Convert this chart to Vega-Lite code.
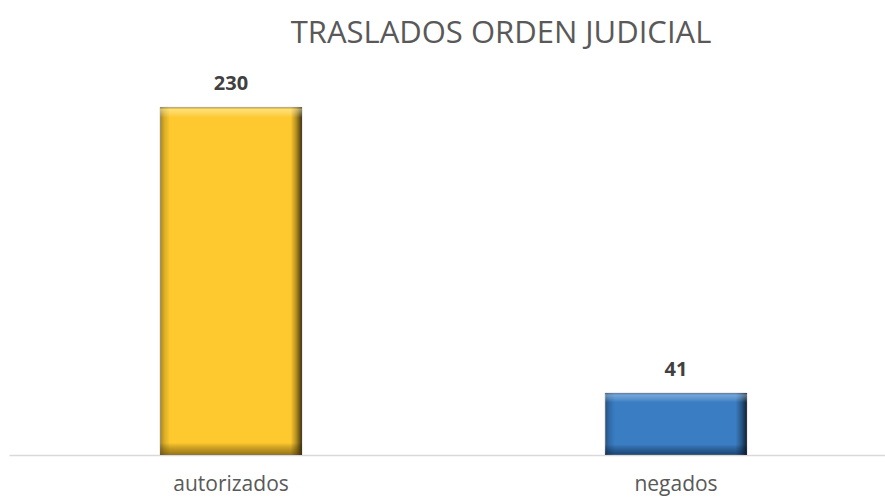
{
  "$schema": "https://vega.github.io/schema/vega-lite/v6.json",
  "width": 876,
  "height": 378,
  "autosize": {"type": "none"},
  "padding": {"left": 9, "top": 77, "right": 0, "bottom": 42},
  "background": "white",
  "title": {
    "text": "TRASLADOS ORDEN JUDICIAL",
    "anchor": "middle",
    "frame": "group",
    "dx": 54,
    "dy": 33,
    "baseline": "alphabetic",
    "offset": 33,
    "font": "Open Sans",
    "fontSize": 31,
    "fontWeight": "normal",
    "color": "#595959"
  },
  "data": {
    "values": [
      {"categoria": "autorizados", "valor": 230},
      {"categoria": "negados", "valor": 41}
    ]
  },
  "encoding": {
    "x": {
      "field": "categoria",
      "type": "nominal",
      "sort": null,
      "scale": {"paddingInner": 0.681, "paddingOuter": 0.3248, "align": 0.5225},
      "axis": {
        "title": null,
        "labelAngle": 0,
        "ticks": false,
        "grid": false,
        "domainColor": "#D9D9D9",
        "domainWidth": 1.5,
        "labelFont": "Open Sans",
        "labelFontSize": 21,
        "labelColor": "#595959",
        "labelBaseline": "alphabetic",
        "labelPadding": 35
      }
    },
    "y": {
      "field": "valor",
      "type": "quantitative",
      "scale": {"domain": [0, 250], "nice": false},
      "axis": null
    }
  },
  "layer": [
    {
      "mark": {"type": "bar", "stroke": "#D9D9D9", "strokeWidth": 1},
      "encoding": {
        "color": {
          "field": "categoria",
          "type": "nominal",
          "scale": {"domain": ["autorizados", "negados"], "range": ["#FEC92E", "#3A7DC3"]},
          "legend": null
        }
      }
    },
    {
      "mark": {
        "type": "bar",
        "fill": {
          "gradient": "linear", "x1": 0, "y1": 0, "x2": 1, "y2": 0,
          "stops": [
            {"offset": 0, "color": "rgba(0,0,0,0.35)"},
            {"offset": 0.03, "color": "rgba(0,0,0,0.15)"},
            {"offset": 0.07, "color": "rgba(0,0,0,0)"},
            {"offset": 0.92, "color": "rgba(0,0,0,0)"},
            {"offset": 0.96, "color": "rgba(0,0,0,0.3)"},
            {"offset": 1, "color": "rgba(0,0,0,0.75)"}
          ]
        }
      }
    },
    {
      "transform": [{"filter": "datum.categoria === 'autorizados'"}],
      "mark": {
        "type": "bar",
        "fill": {
          "gradient": "linear", "x1": 0, "y1": 0, "x2": 0, "y2": 1,
          "stops": [
            {"offset": 0, "color": "rgba(120,80,0,0.5)"},
            {"offset": 0.006, "color": "rgba(255,255,200,0.45)"},
            {"offset": 0.03, "color": "rgba(255,255,255,0)"},
            {"offset": 0.965, "color": "rgba(0,0,0,0)"},
            {"offset": 0.99, "color": "rgba(60,40,0,0.4)"},
            {"offset": 1, "color": "rgba(60,40,0,0.55)"}
          ]
        }
      }
    },
    {
      "transform": [{"filter": "datum.categoria === 'negados'"}],
      "mark": {
        "type": "bar",
        "fill": {
          "gradient": "linear", "x1": 0, "y1": 0, "x2": 0, "y2": 1,
          "stops": [
            {"offset": 0, "color": "rgba(20,40,80,0.5)"},
            {"offset": 0.03, "color": "rgba(200,230,255,0.4)"},
            {"offset": 0.15, "color": "rgba(255,255,255,0)"},
            {"offset": 0.83, "color": "rgba(0,0,0,0)"},
            {"offset": 0.95, "color": "rgba(0,20,50,0.4)"},
            {"offset": 1, "color": "rgba(0,20,50,0.55)"}
          ]
        }
      }
    },
    {
      "mark": {
        "type": "text",
        "dy": -17,
        "baseline": "alphabetic",
        "font": "Open Sans",
        "fontSize": 20,
        "fontWeight": "bold",
        "color": "#404040"
      },
      "encoding": {"text": {"field": "valor", "type": "quantitative"}}
    }
  ],
  "config": {"view": {"stroke": null}}
}
